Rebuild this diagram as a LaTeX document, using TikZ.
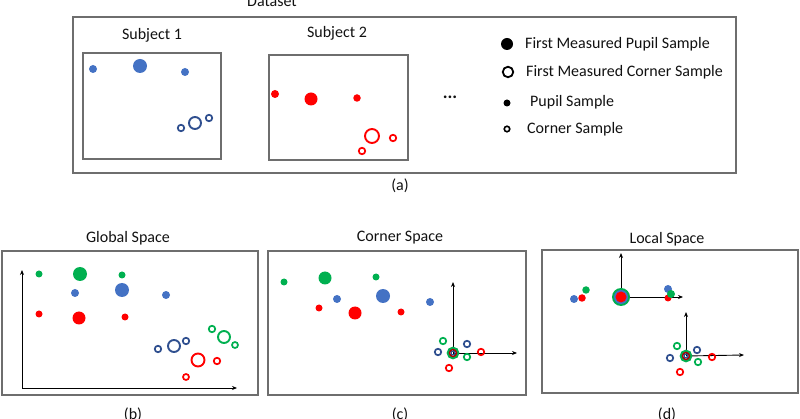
\documentclass[tikz,border=0pt]{standalone}
\usepackage{fontspec}
\setmainfont{Carlito}
\usetikzlibrary{arrows.meta}
\definecolor{framegray}{HTML}{6E6E6E}
\definecolor{pblue}{HTML}{4472C4}
\definecolor{cblue}{HTML}{2F4F8F}
\definecolor{pred}{HTML}{FF0000}
\definecolor{pgreen}{HTML}{00B050}
\definecolor{txt}{HTML}{111111}
\begin{document}
\begin{tikzpicture}[x=1pt,y=-1pt,
  frame/.style={draw=framegray,line width=1.3pt},
  lbl/.style={text=txt,font=\fontsize{16}{19}\selectfont,inner sep=0pt},
  pdot/.style={circle,fill=#1,inner sep=0pt,minimum size=8pt},
  bigdot/.style={circle,fill=#1,inner sep=0pt,minimum size=14pt},
  ring/.style={circle,draw=#1,line width=1.7pt,inner sep=0pt,minimum size=6.5pt},
  bigring/.style={circle,draw=#1,line width=1.9pt,inner sep=0pt,minimum size=12pt},
  axis/.style={draw=black,line width=0.9pt,-{Stealth[length=5pt,width=4pt]}}]
\useasboundingbox (0,0) rectangle (800,419);
% ---------- (a) dataset ----------
\node[lbl,anchor=base] (dstitle) at (272,7) {Dataset};
\draw[frame] (73,17) rectangle (736,173);
\node[lbl] (s1title) at (152,35) {Subject 1};
\draw[frame] (83,53) rectangle (221,159);
\node[pdot=pblue] (s1a) at (93,69) {};
\node[bigdot=pblue] (s1b) at (140,66) {};
\node[pdot=pblue] (s1c) at (185,72) {};
\node[ring=cblue] (s1d) at (181,128) {};
\node[bigring=cblue] (s1e) at (195,123) {};
\node[ring=cblue] (s1f) at (209,118) {};
\node[lbl] (s2title) at (337,33) {Subject 2};
\draw[frame] (269,55) rectangle (408,160);
\node[pdot=pred] (s2a) at (275,94) {};
\node[bigdot=pred,minimum size=13pt] (s2b) at (311,99) {};
\node[pdot=pred,minimum size=7.5pt] (s2c) at (357,98) {};
\node[bigring=pred,minimum size=14pt] (s2d) at (372,136) {};
\node[ring=pred] (s2e) at (393,138) {};
\node[ring=pred] (s2f) at (362,151) {};
\node[lbl,font=\fontsize{18}{18}\selectfont\bfseries] (dots) at (450,97) {...};
% legend
\node[circle,fill=black,inner sep=0pt,minimum size=12pt] (lg1) at (507,44) {};
\node[lbl,anchor=west] (lt1) at (525,44) {First Measured Pupil Sample};
\node[circle,draw=black,line width=1.8pt,inner sep=0pt,minimum size=10.5pt] (lg2) at (508,72) {};
\node[lbl,anchor=west] (lt2) at (526,72) {First Measured Corner Sample};
\node[circle,fill=black,inner sep=0pt,minimum size=7pt] (lg3) at (507,103) {};
\node[lbl,anchor=west] (lt3) at (530,102) {Pupil Sample};
\node[circle,draw=black,line width=1.6pt,inner sep=0pt,minimum size=5.5pt] (lg4) at (507,129) {};
\node[lbl,anchor=west] (lt4) at (527,129) {Corner Sample};
\node[lbl] (capa) at (400,186) {(a)};
% ---------- (b) global space ----------
\node[lbl] (btitle) at (128,238) {Global Space};
\draw[frame] (2,251) rectangle (258,395);
\coordinate (ob) at (22,388);
\coordinate (byt) at (22,270);
\coordinate (bxt) at (237,388);
\draw[axis] (ob) -- (byt);
\draw[axis] (ob) -- (bxt);
\node[pdot=pgreen,minimum size=7pt] (bg1) at (39,274) {};
\node[bigdot=pgreen] (bg2) at (80,274) {};
\node[pdot=pgreen,minimum size=7pt] (bg3) at (122,275) {};
\node[pdot=pblue] (bb1) at (75,293) {};
\node[bigdot=pblue] (bb2) at (122,290) {};
\node[pdot=pblue] (bb3) at (166,295) {};
\node[pdot=pred,minimum size=7pt] (br1) at (39,314) {};
\node[bigdot=pred,minimum size=13pt] (br2) at (79,318) {};
\node[pdot=pred,minimum size=7pt] (br3) at (125,317) {};
\node[ring=cblue] (bcb1) at (158,349) {};
\node[bigring=cblue] (bcb2) at (174,346) {};
\node[ring=cblue] (bcb3) at (186,341) {};
\node[ring=pgreen] (bcg1) at (212,329) {};
\node[bigring=pgreen] (bcg2) at (224,337) {};
\node[ring=pgreen,minimum size=6pt] (bcg3) at (235,345) {};
\node[bigring=pred,minimum size=13pt] (bcr1) at (198,360) {};
\node[ring=pred] (bcr2) at (217,361) {};
\node[ring=pred,minimum size=6pt] (bcr3) at (186,377) {};
\node[lbl] (capb) at (133,415) {(b)};
% ---------- (c) corner space ----------
\node[lbl] (ctitle) at (400,238) {Corner Space};
\draw[frame] (268,251) rectangle (526,395);
\coordinate (oc) at (453,353);
\coordinate (cyt) at (453,282);
\coordinate (cxt) at (517,353);
\draw[axis] (oc) -- (cyt);
\draw[axis] (oc) -- (cxt);
\node[pdot=pgreen,minimum size=7pt] (cg1) at (284,282) {};
\node[bigdot=pgreen,minimum size=13pt] (cg2) at (325,278) {};
\node[pdot=pgreen,minimum size=7pt] (cg3) at (376,277) {};
\node[pdot=pblue] (cb1) at (337,299) {};
\node[bigdot=pblue] (cb2) at (383,296) {};
\node[pdot=pblue] (cb3) at (430,302) {};
\node[pdot=pred,minimum size=7pt] (cr1) at (319,308) {};
\node[bigdot=pred,minimum size=13pt] (cr2) at (355,313) {};
\node[pdot=pred,minimum size=7pt] (cr3) at (401,312) {};
\node[circle,draw=pgreen,line width=2.6pt,inner sep=0pt,minimum size=10pt] (ccg) at (oc) {};
\node[circle,draw=pred!70!black,line width=1.4pt,inner sep=0pt,minimum size=7pt] (ccr) at (oc) {};
\node[circle,draw=cblue,line width=1.2pt,inner sep=0pt,minimum size=4pt] (ccb) at (oc) {};
\node[ring=cblue] (cc1) at (438,352) {};
\node[ring=pgreen] (cc2) at (443,341) {};
\node[ring=cblue] (cc3) at (467,344) {};
\node[ring=pgreen] (cc4) at (467,357) {};
\node[ring=pred] (cc5) at (481,352) {};
\node[ring=pred] (cc6) at (449,368) {};
\node[lbl] (capc) at (400,415) {(c)};
% ---------- (d) local space ----------
\node[lbl] (dtitle) at (667,239) {Local Space};
\draw[frame] (542,250) rectangle (798,393);
\coordinate (od1) at (621,297);
\coordinate (dyt1) at (621,253);
\coordinate (dxt1) at (683,297);
\draw[axis] (od1) -- (dyt1);
\draw[axis] (od1) -- (dxt1);
\coordinate (od2) at (686,356);
\coordinate (dyt2) at (686,312);
\coordinate (dxt2) at (744,355);
\draw[axis] (od2) -- (dyt2);
\draw[axis] (od2) -- (dxt2);
\node[circle,fill=pgreen,inner sep=0pt,minimum size=18pt] (dcg) at (od1) {};
\node[circle,fill=pblue,inner sep=0pt,minimum size=14pt] (dcb) at (od1) {};
\node[circle,fill=pred,inner sep=0pt,minimum size=11pt] (dcr) at (od1) {};
\node[pdot=pgreen,minimum size=7.5pt] (dl3) at (586,290) {};
\node[pdot=pblue] (dl1) at (574,299) {};
\node[pdot=pred,minimum size=7.5pt] (dl2) at (582,298) {};
\node[pdot=pred,minimum size=7pt] (dr3) at (668,298) {};
\node[pdot=pblue] (dr1) at (668,289) {};
\node[pdot=pgreen] (dr2) at (671,294) {};
\node[circle,draw=pgreen,line width=2.6pt,inner sep=0pt,minimum size=10pt] (ddg) at (od2) {};
\node[circle,draw=pred!70!black,line width=1.4pt,inner sep=0pt,minimum size=7pt] (ddr) at (od2) {};
\node[circle,draw=cblue,line width=1.2pt,inner sep=0pt,minimum size=4pt] (ddb) at (od2) {};
\node[ring=cblue] (dc1) at (670,358) {};
\node[ring=pgreen] (dc2) at (677,346) {};
\node[ring=cblue] (dc3) at (697,350) {};
\node[ring=pgreen] (dc4) at (698,362) {};
\node[ring=pred] (dc5) at (712,357) {};
\node[ring=pred] (dc6) at (680,372) {};
\node[lbl] (capd) at (667,415) {(d)};
\end{tikzpicture}
\end{document}
